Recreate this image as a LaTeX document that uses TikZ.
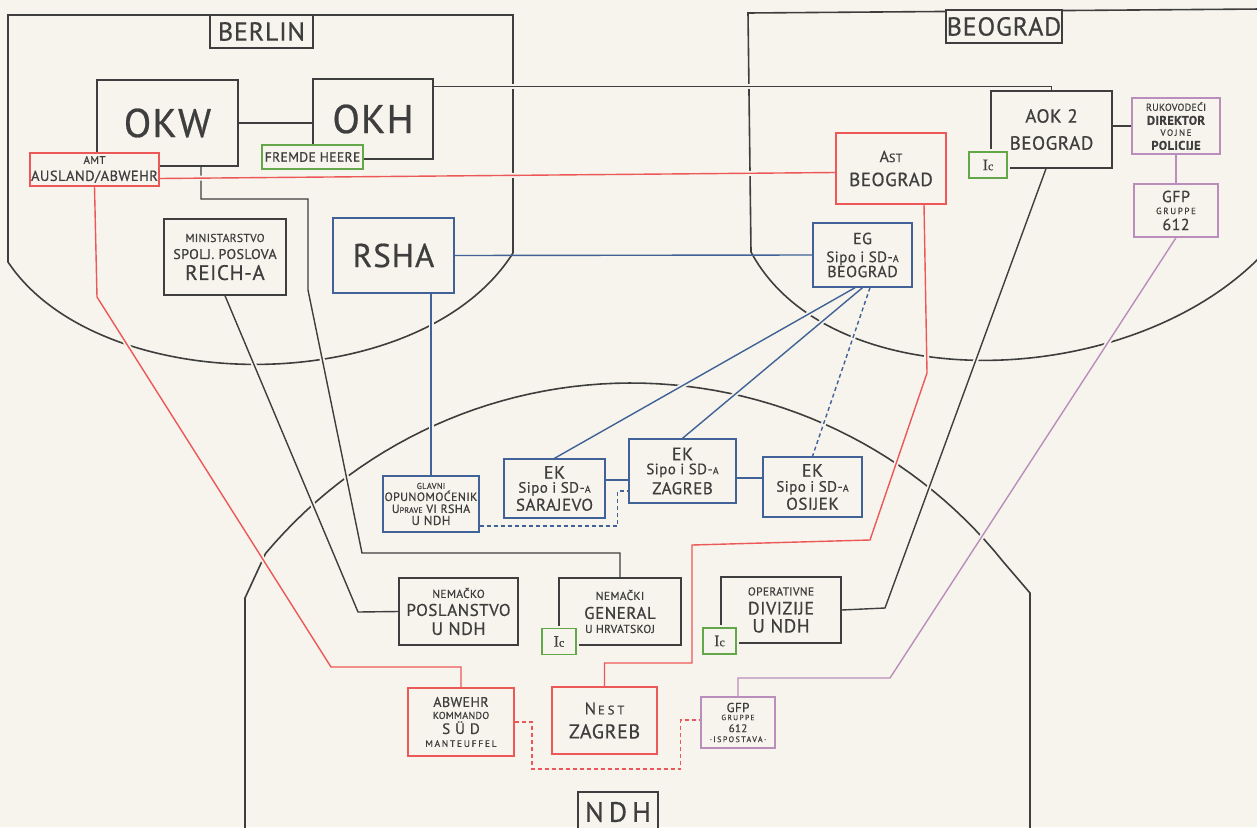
\documentclass[tikz,border=0pt]{standalone}
\usepackage{fontspec}
\setmainfont[FakeBold=0.6, LetterSpace=3]{PT Sans}
\newfontfamily\spaced[FakeBold=0.6, LetterSpace=18]{PT Sans}
\newfontfamily\icfont[FakeBold=0.6]{Liberation Serif}
\usetikzlibrary{backgrounds}
\definecolor{paper}{RGB}{246,244,236}
\definecolor{ink}{RGB}{62,62,62}
\definecolor{redink}{RGB}{236,88,88}
\definecolor{blueink}{RGB}{64,98,150}
\definecolor{greenink}{RGB}{100,166,74}
\definecolor{purpleink}{RGB}{186,142,186}
\newcommand{\fsz}[2]{\fontsize{#1}{#2}\selectfont\lineskiplimit=-40pt\relax}
\newcommand{\sipo}{{\fsz{15}{15}Sipo i SD-\fsz{10}{10}A}}
\newcommand{\icmark}{{\icfont\fsz{16}{16}I\fsz{12}{12}c}}
\tikzset{
unit box/.style = { rectangle, draw = ink, fill = paper, line width = 1.4pt, inner sep = 0pt, text = ink, align = center },
black box/.style = { unit box },
red box/.style = { unit box, draw = redink },
blue box/.style = { unit box, draw = blueink },
purple box/.style = { unit box, draw = purpleink },
green box/.style = { unit box, draw = greenink, line width = 1.7pt },
ic box/.style = { green box, minimum width = 34pt, minimum height = 26pt, preaction = { draw = paper, line width = 6pt } },
region/.style = { draw = ink, line width = 1.6pt },
link/.style = { draw = ink, line width = 1.4pt, preaction = { draw = paper, line width = 5pt, solid } },
red link/.style = { link, draw = redink },
blue link/.style = { link, draw = blueink },
purple link/.style = { link, draw = purpleink },
red dash/.style = { red link, dash pattern = on 4pt off 3pt },
blue dash/.style = { blue link, dash pattern = on 4pt off 3pt },
}

\begin{document}
\begin{tikzpicture}[x = 1pt, y = -1pt]
    \useasboundingbox (0, 0) rectangle (1257, 827);
    % Berlin
    \node[black box, minimum width = 141pt, minimum height = 86pt, font = \fsz{40}{40}] (okw) at (167.5, 123) {OKW};
    \node[black box, minimum width = 120pt, minimum height = 80pt, font = \fsz{40}{40}] (okh) at (373, 119) {OKH};
    \node[green box, minimum width = 101pt, minimum height = 24pt, font = \fsz{13.5}{14}] (fremde) at (312.5, 157) {FREMDE HEERE};
    \node[red box, minimum width = 129pt, minimum height = 33pt, font = \fsz{14.5}{17}] (amt) at (94.5, 169.5) {{\fsz{11}{11}AMT}\\AUSLAND/ABWEHR};
    \node[black box, minimum width = 122pt, minimum height = 76pt, font = \fsz{14}{17}] (min) at (225, 257) {{\fsz{11.5}{11.5}MINISTARSTVO}\\SPOLJ. POSLOVA\\[4pt]{\fsz{21}{21}REICH-A}};
    \node[blue box, minimum width = 121pt, minimum height = 75pt, font = \fsz{33}{33}] (rsha) at (393.5, 255.5) {RSHA};
    \node[black box, minimum width = 103pt, minimum height = 33pt, font = \fsz{26}{26}] (berlin) at (261.5, 31.5) {BERLIN};
    % Beograd
    \node[black box, minimum width = 116pt, minimum height = 33pt, font = \fsz{26}{26}] (beograd) at (1004, 26.5) {BEOGRAD};
    \node[red box, minimum width = 110pt, minimum height = 71pt, font = \fsz{19}{24}] (ast) at (891, 168.5) {{\fsz{16}{16}A\fsz{12}{12}ST}\\BEOGRAD};
    \node[black box, minimum width = 121pt, minimum height = 77pt, font = \fsz{19}{27}] (aok) at (1051.5, 129.5) {AOK 2\\BEOGRAD};
    \node[ic box, minimum width = 38pt] (aokic) at (988, 165) {\icmark};
    \node[purple box, minimum width = 88pt, minimum height = 56pt, font = \fsz{10}{14}] (ruk) at (1176, 126) {RUKOVODEĆI\\{\bfseries\fsz{12.5}{12.5}DIREKTOR}\\[-3pt]{\spaced\fsz{9}{9}VOJNE}\\{\bfseries\fsz{12.5}{12.5}POLICIJE}};
    \node[purple box, minimum width = 84pt, minimum height = 53pt, font = \fsz{16}{12}] (gfp) at (1176, 210.5) {GFP\\{\spaced\fsz{9}{9}GRUPPE}\\[4pt]612};
    \node[blue box, minimum width = 99pt, minimum height = 64pt, font = \fsz{16}{15}] (eg) at (862.5, 255) {EG\\[3pt]\sipo\\BEOGRAD};
    % NDH
    \node[blue box, minimum width = 96pt, minimum height = 56pt, font = \fsz{12}{12}] (glavni) at (431, 504) {{\fsz{8.5}{8.5}GLAVNI}\\OPUNOMOĆENIK\\U{\fsz{8}{8}PRAVE} VI RSHA\\{\fsz{13}{13}U NDH}};
    \node[blue box, minimum width = 101pt, minimum height = 59pt, font = \fsz{17}{14}] (sar) at (554.5, 488.5) {{\fsz{18}{18}EK}\\\sipo\\[4pt]SARAJEVO};
    \node[blue box, minimum width = 107pt, minimum height = 64pt, font = \fsz{17}{14}] (zag) at (682.5, 471) {{\fsz{18}{18}EK}\\\sipo\\[6pt]ZAGREB};
    \node[blue box, minimum width = 99pt, minimum height = 60pt, font = \fsz{17}{15}] (osi) at (812.5, 487) {{\fsz{18}{18}EK}\\\sipo\\[3pt]OSIJEK};
    \node[black box, minimum width = 119pt, minimum height = 67pt, font = \fsz{17}{18}] (posl) at (458.5, 611.5) {{\fsz{11.5}{11.5}NEMAČKO}\\POSLANSTVO\\[1pt]{\fsz{18}{18}U NDH}};
    \node[black box, minimum width = 122pt, minimum height = 67pt, font = \fsz{17}{16}] (general) at (620, 611.5) {{\fsz{11.5}{11.5}NEMAČKI}\\[3pt]GENERAL\\[-2pt]{\fsz{11.5}{11.5}U HRVATSKOJ}};
    \node[ic box] (genic) at (559, 641.5) {\icmark};
    \node[black box, minimum width = 120pt, minimum height = 66pt, font = \fsz{18}{18}] (oper) at (781, 610) {{\fsz{11.5}{11.5}OPERATIVNE}\\[1pt]DIVIZIJE\\{\fsz{19}{19}U NDH}};
    \node[ic box, minimum width = 33pt] (operic) at (719.5, 641) {\icmark};
    \node[red box, minimum width = 106pt, minimum height = 68pt, font = \fsz{14}{13}] (abw) at (461, 722) {ABWEHR\\[-1pt]{\fsz{10}{10}KOMMANDO}\\[2pt]{\fsz{15}{15}S\hspace{5pt}Ü\hspace{5pt}D}\\{\spaced\fsz{9.5}{9.5}MANTEUFFEL}};
    \node[red box, minimum width = 105pt, minimum height = 67pt, font = \fsz{20}{24}] (nest) at (604.5, 720.5) {{\fsz{17}{17}N\hspace{2pt}\fsz{12.5}{12.5}E\hspace{3pt}S\hspace{3pt}T}\\ZAGREB};
    \node[purple box, minimum width = 74pt, minimum height = 51pt, font = \fsz{11}{10}] (gfpi) at (738, 722.5) {{\fsz{13}{13}GFP}\\[-2pt]{\spaced\fsz{7.5}{7.5}GRUPPE}\\[2pt]612\\{\spaced\fsz{8}{8}·ISPOSTAVA·}};
    \node[black box, minimum width = 80pt, minimum height = 40pt, font = \fsz{28}{28}] (ndh) at (618, 812) {N\hspace{5pt}D\hspace{5pt}H};

    \begin{pgfonlayer}{background}
      \fill[paper] (0, 0) rectangle (1257, 827);
      \draw[region] (513, 253) -- (513, 15) -- (8, 15) -- (8, 262) .. controls (100, 400) and (420, 400) .. (513, 253);
      \draw[region] (1262, 9) -- (748, 13) -- (751, 252) .. controls (830, 400) and (1130, 392) .. (1262, 255);
      \draw[region] (245, 840) -- (245, 598) -- plot[domain = 140:38.7, samples = 60] ({631 + 477*cos(\x)}, {860 - 477*sin(\x)}) -- (1030, 593) -- (1030, 840);
      % black
      \draw[link] (okw.east) -- (okw.east -| okh.west);
      \draw[link] ([yshift = -8pt]okh.north east) -| (aok.north);
      \draw[link] ([xshift = 33.5pt]okw.south) |- (308, 199) -- (308, 290) -- (362, 553) -| (general.north);
      \draw[link] (min.south) -- (358, 612) -- (posl.west);
      \draw[link] ([xshift = -5.5pt]aok.south) -- (885, 608) -- (oper.east);
      \draw[link] (aok.east |- ruk.west) -- (ruk.west);
      % red
      \draw[red link] ([yshift = -9pt]amt.east) -- ([yshift = -4pt]ast.west);
      \draw[red link] (amt.south) -- (97, 297) -- (331, 667) -| (abw.north);
      \draw[red link] ([xshift = 33pt]ast.south) -- (927, 373) -- (870, 540) -- (692, 545) -- (692, 663) -| (nest.north);
      \draw[red dash] (abw.east) -| (532, 769) -| ([xshift = -20pt, yshift = 2.5pt]gfpi.west) -- ([yshift = 2.5pt]gfpi.west);
      % purple
      \draw[purple link] (ruk.south) -- (gfp.north);
      \draw[purple link] (gfp.south) -- (890, 678) -| (gfpi.north);
      % blue
      \draw[draw = blueink, line width = 1.4pt] (rsha.east) -- (eg.west);
      \draw[blue link] (glavni.north) -- (glavni.north |- rsha.south);
      \draw[blue link] ([xshift = -7.5pt]eg.south) -- (sar.north);
      \draw[blue link] (eg.south) -- (zag.north);
      \draw[blue dash] ([xshift = 7.5pt]eg.south) -- (osi.north);
      \draw[blue link] ([yshift = 8.5pt]sar.east) -- ([yshift = 8.5pt]sar.east -| zag.west);
      \draw[blue link] ([yshift = -7pt]zag.east) -- ([yshift = -7pt]zag.east -| osi.west);
      \draw[blue dash] ([yshift = -22pt]glavni.east) -| ([xshift = -11pt, yshift = -20pt]zag.west) -- ([yshift = -20pt]zag.west);
    \end{pgfonlayer}
\end{tikzpicture}
\end{document}
